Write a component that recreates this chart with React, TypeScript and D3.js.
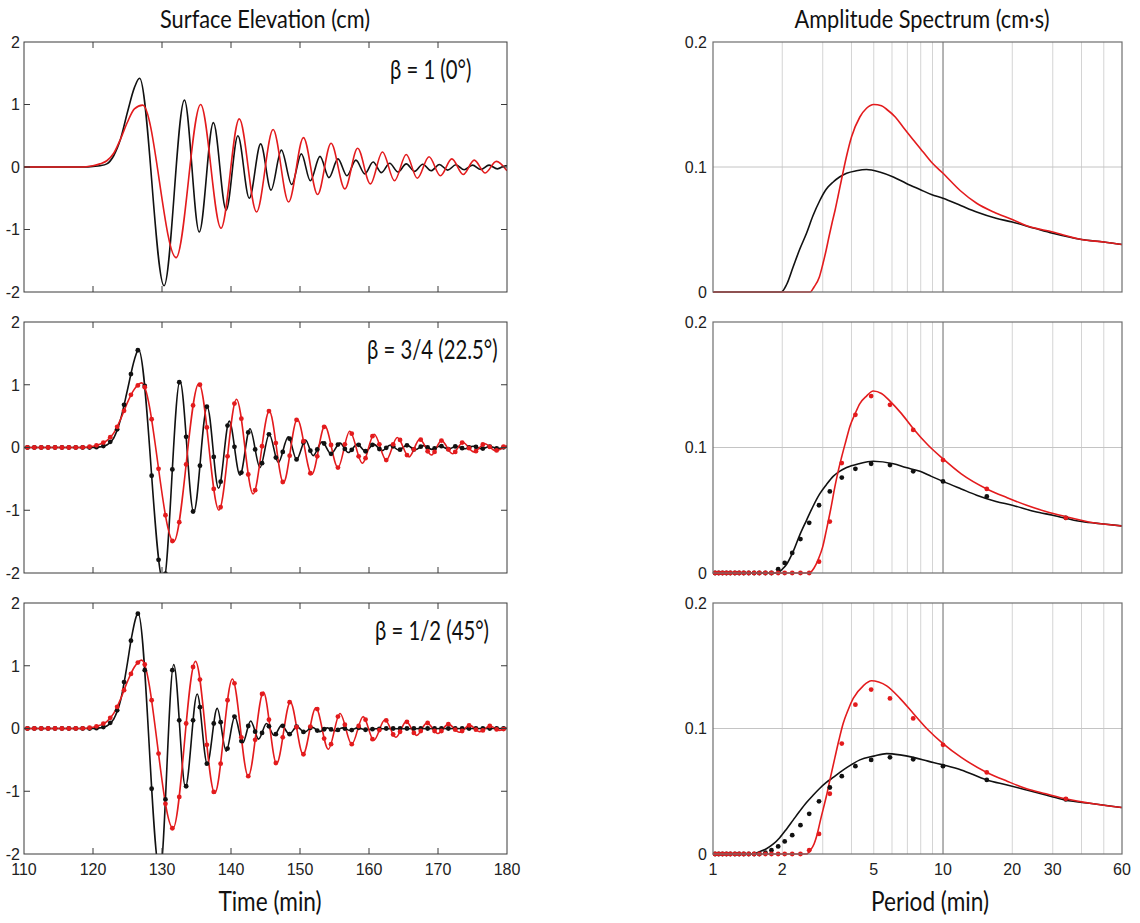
import React from "react";
import * as d3 from "d3";

type P = [number, number];

// ---------- axes / labels ----------
const timeTicks = [110, 120, 130, 140, 150, 160, 170, 180];
const elevTicks = [-2, -1, 0, 1, 2];
const periodGrid = [2, 3, 4, 5, 6, 7, 8, 9, 10, 20, 30, 40, 50];
const periodLabels = [1, 2, 5, 10, 20, 30, 60];
const specTicks = [0, 0.1, 0.2];
const betaLabels = ["β = 1 (0°)", "β = 3/4 (22.5°)", "β = 1/2 (45°)"];

// ---------- surface elevation: lines (time min, cm) ----------
const elevTopBlack: P[] = [[110,0],[119,0],[120,0.01],[121,0.02],[122,0.05],[123,0.18],[124,0.45],[125,0.88],[126,1.27],[126.75,1.42],[130.3,-1.9],[133.25,1.07],[135.4,-1.04],[137.45,0.71],[139.3,-0.69],[141.0,0.5],[142.65,-0.5],[144.3,0.37],[145.8,-0.37],[147.3,0.27],[148.8,-0.28],[150.2,0.21],[151.5,-0.22],[152.9,0.17],[154.2,-0.17],[155.5,0.13],[156.8,-0.14],[158.1,0.11],[159.4,-0.11],[160.6,0.08],[161.8,-0.09],[163.0,0.06],[164.2,-0.08],[165.4,0.05],[166.6,-0.07],[167.8,0.045],[169.0,-0.06],[170.2,0.04],[171.4,-0.05],[172.6,0.035],[173.8,-0.045],[175.0,0.03],[176.2,-0.04],[177.4,0.03],[178.6,-0.03],[179.8,0.02],[180,0.02]];
const elevTopRed: P[] = [[110,0],[118,0],[119,0.005],[120,0.02],[121,0.05],[122,0.1],[123,0.22],[124,0.45],[125,0.72],[126,0.93],[127.2,0.99],[132.05,-1.45],[135.6,1.0],[138.55,-0.98],[141.2,0.77],[143.7,-0.72],[146.1,0.6],[148.35,-0.56],[150.5,0.47],[152.55,-0.44],[154.5,0.38],[156.5,-0.35],[158.35,0.3],[160.2,-0.27],[161.95,0.24],[163.7,-0.22],[165.4,0.2],[167.0,-0.18],[168.7,0.165],[170.35,-0.14],[172.0,0.13],[173.65,-0.12],[175.25,0.11],[176.85,-0.095],[178.45,0.09],[180,-0.06]];
const elevMidBlack: P[] = [[110,0],[120,0],[121,0.01],[122,0.04],[123,0.15],[124,0.45],[125,0.92],[126,1.4],[126.6,1.56],[130.2,-2.15],[132.6,1.06],[134.6,-1.03],[136.55,0.65],[138.2,-0.65],[139.75,0.42],[141.3,-0.44],[142.75,0.3],[144.2,-0.32],[145.55,0.21],[146.85,-0.24],[148.3,0.17],[149.5,-0.19],[150.8,0.12],[151.9,-0.13],[153.2,0.09],[154.5,-0.1],[155.8,0.07],[157.0,-0.08],[158.3,0.05],[159.5,-0.06],[160.7,0.05],[161.9,-0.05],[163.1,0.04],[164.3,-0.04],[165.5,0.035],[166.7,-0.035],[167.9,0.03],[169.1,-0.03],[170.3,0.025],[171.5,-0.025],[172.7,0.02],[173.9,-0.02],[175.1,0.02],[176.3,-0.02],[177.5,0.015],[178.7,-0.015],[180,0.01]];
const elevMidRed: P[] = [[110,0],[118,0],[119,0.005],[120,0.02],[121,0.05],[122,0.11],[123,0.23],[124,0.45],[125,0.72],[126,0.93],[127.05,1.03],[131.7,-1.5],[135.35,1.02],[138.25,-1.0],[140.8,0.77],[143.2,-0.74],[145.55,0.58],[147.6,-0.56],[149.6,0.45],[151.7,-0.43],[153.6,0.34],[155.5,-0.32],[157.2,0.26],[159.05,-0.25],[160.75,0.21],[162.5,-0.2],[164.1,0.16],[165.8,-0.15],[167.35,0.13],[169.05,-0.12],[170.5,0.11],[172.1,-0.1],[173.6,0.08],[175.2,-0.07],[176.8,0.06],[178.3,-0.05],[180,0.03]];
const elevBotBlack: P[] = [[110,0],[120,0],[121,0.01],[122,0.04],[123,0.15],[124,0.45],[125,1.05],[125.6,1.46],[126.55,1.83],[129.7,-2.3],[131.7,1.02],[133.4,-0.93],[135.1,0.55],[136.55,-0.56],[138.0,0.32],[139.3,-0.36],[140.55,0.19],[141.7,-0.23],[142.85,0.12],[144.0,-0.17],[145.15,0.08],[146.25,-0.11],[147.35,0.05],[148.45,-0.09],[149.55,0.03],[150.65,-0.06],[151.75,0.02],[152.85,-0.05],[153.95,0.01],[155.05,-0.04],[156.15,0.01],[157.25,-0.03],[158.35,0.01],[159.5,-0.02],[161,-0.005],[180,0]];
const elevBotRed: P[] = [[110,0],[118,0],[119,0.005],[120,0.02],[121,0.05],[122,0.11],[123,0.24],[124,0.47],[125,0.75],[126,0.98],[127.05,1.09],[131.6,-1.59],[134.85,1.07],[137.65,-1.03],[140.2,0.79],[142.5,-0.76],[144.7,0.58],[146.6,-0.56],[148.6,0.42],[150.45,-0.41],[152.3,0.33],[154.1,-0.33],[155.8,0.24],[157.5,-0.25],[159.15,0.19],[160.7,-0.19],[162.3,0.14],[163.9,-0.14],[165.4,0.11],[166.9,-0.11],[168.4,0.09],[170.0,-0.08],[171.5,0.07],[173.1,-0.06],[174.6,0.05],[176.05,-0.05],[177.5,0.04],[178.95,-0.03],[180,0.01]];

// ---------- surface elevation: simulation dots ----------
const dotTimes = [110.5,111.5,112.5,113.5,114.5,115.5,116.5,117.5,118.5,119.5,120.5,121.5,122.5,123.5,124.5,125.5,126.5,127.5,128.5,129.5,130.5,131.5,132.5,133.5,134.5,135.5,136.5,137.5,138.5,139.5,140.5,141.5,142.5,143.5,144.5,145.5,146.5,147.5,148.5,149.5,150.5,151.5,152.5,153.5,154.5,155.5,156.5,157.5,158.5,159.5,160.5,161.5,162.5,163.5,164.5,165.5,166.5,167.5,168.5,169.5,170.5,171.5,172.5,173.5,174.5,175.5,176.5,177.5,178.5,179.5];
const dotsMidBlack = [0,0,0,0,0,0,0,0,0,0,0.005,0.022,0.09,0.29,0.68,1.17,1.55,0.98,-0.45,-1.79,-2.01,-0.35,1.04,0.17,-1.02,-0.29,0.65,-0.15,-0.545,0.35,0.01,-0.4,0.24,-0.03,-0.25,0.21,-0.16,-0.07,0.14,-0.19,0.08,-0.05,-0.03,0.064,-0.1,0.047,-0.023,-0.037,0.042,-0.06,0.042,-0.024,-0.005,0.019,-0.034,0.035,-0.03,0.013,0,-0.016,0.021,-0.025,0.017,-0.01,0,0.01,-0.017,0.015,-0.013,0.002];
const dotsMidRed = [0,0,0,0,0,0,0,0,0.002,0.012,0.034,0.078,0.165,0.33,0.585,0.84,0.99,0.96,0.45,-0.34,-1.08,-1.49,-1.19,-0.27,0.67,1.0,0.32,-0.66,-0.95,-0.14,0.7,0.46,-0.43,-0.68,0.02,0.58,0.07,-0.55,-0.13,0.44,0.1,-0.41,-0.14,0.33,0.04,-0.32,0.05,0.22,-0.14,-0.17,0.18,0.05,-0.2,0.05,0.12,-0.12,-0.03,0.125,-0.06,-0.07,0.11,-0.03,-0.07,0.078,-0.01,-0.058,0.048,0.01,-0.047,0.013];
const dotsBotBlack = [0,0,0,0,0,0,0,0,0,0,0.005,0.022,0.09,0.29,0.74,1.4,1.83,0.93,-0.96,-2.25,-1.13,0.93,0.13,-0.92,0.13,0.34,-0.56,0.08,0.1,-0.32,0.19,-0.2,0.04,-0.05,-0.07,0.035,-0.09,0.043,-0.09,0.03,-0.055,0.01,-0.033,-0.012,-0.015,-0.022,0,-0.025,0.01,-0.02,-0.01,-0.005,0,0,0,0,0,0,0,0,0,0,0,0,0,0,0,0,0,0];
const dotsBotRed = [0,0,0,0,0,0,0,0,0.002,0.012,0.034,0.078,0.17,0.345,0.61,0.87,1.05,1.02,0.45,-0.4,-1.2,-1.59,-1.09,0.08,0.98,0.78,-0.26,-1.01,-0.56,0.45,0.72,-0.14,-0.76,-0.18,0.55,0.14,-0.55,-0.14,0.42,0.02,-0.41,0.03,0.31,-0.16,-0.25,0.19,0.06,-0.25,0.04,0.14,-0.17,-0.025,0.128,-0.096,-0.052,0.107,-0.071,-0.04,0.088,-0.04,-0.04,0.07,-0.019,-0.04,0.049,-0.018,-0.03,0.04,-0.014,-0.009];

// ---------- amplitude spectrum: lines (period min, cm·s) ----------
const specTopBlack: P[] = [[1,0],[1.98,0],[2.09,0.006],[2.23,0.02],[2.38,0.034],[2.55,0.047],[2.72,0.061],[2.91,0.073],[3.1,0.082],[3.33,0.088],[3.55,0.092],[3.81,0.095],[4.2,0.097],[4.65,0.098],[5.3,0.096],[6.08,0.092],[6.9,0.087],[7.94,0.082],[8.9,0.078],[10,0.075],[12,0.069],[14,0.064],[17,0.059],[20,0.056],[25,0.051],[30,0.047],[40,0.042],[50,0.04],[60,0.038]];
const specTopRed: P[] = [[1,0],[2.65,0],[2.75,0.004],[2.9,0.012],[3.0,0.022],[3.1,0.033],[3.2,0.045],[3.3,0.056],[3.4,0.066],[3.5,0.077],[3.62,0.09],[3.8,0.108],[4.0,0.124],[4.35,0.14],[4.65,0.147],[5.0,0.15],[5.4,0.149],[5.7,0.146],[6.2,0.14],[6.7,0.132],[7.4,0.122],[8.2,0.112],[9.0,0.103],[10,0.095],[11.9,0.081],[14,0.071],[16.6,0.064],[20,0.058],[23.1,0.053],[30,0.048],[40,0.042],[50,0.04],[60,0.038]];
const specMidBlack: P[] = [[1,0],[1.9,0],[2.0,0.003],[2.09,0.007],[2.23,0.017],[2.38,0.03],[2.55,0.042],[2.72,0.053],[2.91,0.063],[3.1,0.07],[3.33,0.077],[3.55,0.081],[3.81,0.084],[4.3,0.087],[4.97,0.089],[6.08,0.087],[6.9,0.084],[7.94,0.081],[8.9,0.077],[10,0.073],[12,0.067],[14,0.062],[17,0.057],[20,0.054],[25,0.049],[30,0.046],[40,0.041],[50,0.039],[60,0.0375]];
const specMidRed: P[] = [[1,0],[2.62,0],[2.75,0.004],[2.87,0.011],[3.0,0.021],[3.11,0.034],[3.25,0.051],[3.39,0.069],[3.5,0.081],[3.62,0.092],[3.78,0.105],[3.94,0.117],[4.15,0.127],[4.35,0.135],[4.65,0.141],[4.97,0.145],[5.4,0.143],[5.88,0.137],[6.6,0.127],[7.43,0.115],[8.6,0.102],[10,0.091],[12,0.079],[15.5,0.067],[19,0.06],[23.1,0.054],[28,0.049],[34,0.045],[45,0.04],[60,0.0375]];
const specBotBlack: P[] = [[1,0],[1.5,0],[1.6,0.002],[1.7,0.004],[1.83,0.008],[1.95,0.013],[2.09,0.02],[2.23,0.027],[2.38,0.034],[2.55,0.041],[2.73,0.047],[2.9,0.052],[3.11,0.057],[3.33,0.061],[3.56,0.065],[3.9,0.07],[4.35,0.075],[5.0,0.078],[5.69,0.08],[6.5,0.079],[7.43,0.077],[8.6,0.074],[10,0.071],[12,0.067],[15.5,0.059],[19,0.055],[23.1,0.051],[28,0.047],[34,0.043],[45,0.04],[60,0.037]];
const specBotRed: P[] = [[1,0],[2.55,0],[2.65,0.003],[2.75,0.008],[2.82,0.014],[2.95,0.029],[3.11,0.046],[3.25,0.062],[3.39,0.077],[3.53,0.091],[3.68,0.104],[3.87,0.115],[4.07,0.124],[4.5,0.134],[4.89,0.138],[5.25,0.137],[5.69,0.134],[6.5,0.124],[7.43,0.112],[8.6,0.099],[10,0.088],[12,0.077],[15.5,0.065],[19,0.058],[23.1,0.052],[28,0.048],[34,0.044],[45,0.04],[60,0.037]];

// ---------- amplitude spectrum: simulation dots ----------
const specDotPeriods = [1.021,1.059,1.1,1.144,1.19,1.245,1.3,1.36,1.43,1.51,1.59,1.69,1.795,1.92,2.05,2.21,2.4,2.62,2.89,3.22,3.63,4.16,4.87,5.88,7.42,10,15.5,34.2];
const specDotsMidBlack = [0,0,0,0,0,0,0,0,0,0,0,0,0,0.003,0.008,0.016,0.027,0.04,0.054,0.065,0.076,0.083,0.087,0.086,0.081,0.073,0.061,0.044];
const specDotsMidRed = [0,0,0,0,0,0,0,0,0,0,0,0,0,0,0,0,0,0,0.009,0.041,0.0876,0.126,0.141,0.134,0.114,0.09,0.067,0.044];
const specDotsBotBlack = [0,0,0,0,0,0,0,0,0,0,0,0.001,0.003,0.006,0.01,0.015,0.023,0.032,0.042,0.053,0.062,0.07,0.075,0.077,0.0755,0.07,0.059,0.0435];
const specDotsBotRed = [0,0,0,0,0,0,0,0,0,0,0,0,0,0,0,0,0,0.003,0.016,0.048,0.088,0.119,0.131,0.124,0.108,0.087,0.065,0.044];

// ---------- layout ----------
const W = 1140, H = 923;
const LX0 = 24, LX1 = 507, RX0 = 713, RX1 = 1122;
const ROWS = [{ top: 42, bottom: 292 }, { top: 322, bottom: 573 }, { top: 603, bottom: 854 }];
const BETA_POS = [{ x: 390, y: 79 }, { x: 367, y: 359 }, { x: 375, y: 640 }];
const BLACK = "#111111";
const RED = "#e31b1d";
const TICK_FONT = "'Liberation Sans', Arial, Helvetica, sans-serif";
const LABEL_FONT = "Lato, 'Open Sans', sans-serif";
const DOT_R = 2.4;

const zip = (xs: number[], ys: number[]): P[] => xs.map((x, i) => [x, ys[i]]);

const elevRows = [
  { black: elevTopBlack, red: elevTopRed, bDots: null as P[] | null, rDots: null as P[] | null },
  { black: elevMidBlack, red: elevMidRed, bDots: zip(dotTimes, dotsMidBlack), rDots: zip(dotTimes, dotsMidRed) },
  { black: elevBotBlack, red: elevBotRed, bDots: zip(dotTimes, dotsBotBlack), rDots: zip(dotTimes, dotsBotRed) },
];
const specRows = [
  { black: specTopBlack, red: specTopRed, bDots: null as P[] | null, rDots: null as P[] | null },
  { black: specMidBlack, red: specMidRed, bDots: zip(specDotPeriods, specDotsMidBlack), rDots: zip(specDotPeriods, specDotsMidRed) },
  { black: specBotBlack, red: specBotRed, bDots: zip(specDotPeriods, specDotsBotBlack), rDots: zip(specDotPeriods, specDotsBotRed) },
];

function CondText({ x, y, size, sx, anchor, children }: { x: number; y: number; size: number; sx: number; anchor: string; children: React.ReactNode }) {
  return (
    <text transform={`translate(${x},${y}) scale(${sx},1)`} textAnchor={anchor} fontFamily={LABEL_FONT} fontSize={size} fill="#111">{children}</text>
  );
}

function ElevPanel({ i }: { i: number }) {
  const { top, bottom } = ROWS[i];
  const x = d3.scaleLinear().domain([110, 180]).range([LX0, LX1]);
  const y = d3.scaleLinear().domain([-2, 2]).range([bottom, top]);
  const line = d3.line<P>().x(d => x(d[0])).y(d => y(d[1])).curve(d3.curveMonotoneX);
  const r = elevRows[i];
  const clip = `clipL${i}`;
  const isLast = i === 2;
  return (
    <g>
      <defs>
        <clipPath id={clip}><rect x={LX0} y={top} width={LX1 - LX0} height={bottom - top} /></clipPath>
      </defs>
      <g clipPath={`url(#${clip})`}>
        <path d={line(r.black) || ""} fill="none" stroke={BLACK} strokeWidth={1.6} />
        <path d={line(r.red) || ""} fill="none" stroke={RED} strokeWidth={1.6} />
        {r.bDots && r.bDots.map((d, k) => <circle key={"b" + k} cx={x(d[0])} cy={y(d[1])} r={DOT_R} fill={BLACK} />)}
        {r.rDots && r.rDots.map((d, k) => <circle key={"r" + k} cx={x(d[0])} cy={y(d[1])} r={DOT_R} fill={RED} />)}
      </g>
      <rect x={LX0} y={top} width={LX1 - LX0} height={bottom - top} fill="none" stroke="#3a3a3a" strokeWidth={1} />
      {timeTicks.slice(1, -1).map(t => (
        <g key={t}>
          <line x1={x(t)} x2={x(t)} y1={bottom} y2={bottom - 6} stroke="#3a3a3a" />
          <line x1={x(t)} x2={x(t)} y1={top} y2={top + 6} stroke="#3a3a3a" />
        </g>
      ))}
      {elevTicks.slice(1, -1).map(v => (
        <g key={v}>
          <line x1={LX0} x2={LX0 + 6} y1={y(v)} y2={y(v)} stroke="#3a3a3a" />
          <line x1={LX1} x2={LX1 - 6} y1={y(v)} y2={y(v)} stroke="#3a3a3a" />
        </g>
      ))}
      {elevTicks.map(v => (
        <text key={"yl" + v} x={20} y={y(v)} dy="0.36em" textAnchor="end" fontFamily={TICK_FONT} fontSize={16} fill="#222">{v}</text>
      ))}
      {isLast && timeTicks.map(t => (
        <text key={"xl" + t} x={x(t)} y={bottom + 21} textAnchor="middle" fontFamily={TICK_FONT} fontSize={16} fill="#222">{t}</text>
      ))}
      <CondText x={BETA_POS[i].x} y={BETA_POS[i].y} size={26} sx={0.78} anchor="start">{betaLabels[i]}</CondText>
    </g>
  );
}

function SpecPanel({ i }: { i: number }) {
  const { top, bottom } = ROWS[i];
  const x = d3.scaleLog().domain([1, 60]).range([RX0, RX1]);
  const y = d3.scaleLinear().domain([0, 0.2]).range([bottom, top]);
  const line = d3.line<P>().x(d => x(d[0])).y(d => y(d[1])).curve(d3.curveMonotoneX);
  const r = specRows[i];
  const isLast = i === 2;
  return (
    <g>
      {periodGrid.map(p => (
        <line key={p} x1={x(p)} x2={x(p)} y1={top} y2={bottom} stroke={p === 10 ? "#8c8c8c" : "#d4d4d4"} strokeWidth={p === 10 ? 1.3 : 1} />
      ))}
      <line x1={RX0} x2={RX1} y1={y(0.1)} y2={y(0.1)} stroke="#c4c4c4" strokeWidth={1} />
      <path d={line(r.black) || ""} fill="none" stroke={BLACK} strokeWidth={1.6} />
      <path d={line(r.red) || ""} fill="none" stroke={RED} strokeWidth={1.6} />
      {r.bDots && r.bDots.map((d, k) => <circle key={"b" + k} cx={x(d[0])} cy={y(d[1])} r={DOT_R} fill={BLACK} />)}
      {r.rDots && r.rDots.map((d, k) => <circle key={"r" + k} cx={x(d[0])} cy={y(d[1])} r={DOT_R} fill={RED} />)}
      <rect x={RX0} y={top} width={RX1 - RX0} height={bottom - top} fill="none" stroke="#6e6e6e" strokeWidth={1.2} />
      {specTicks.map(v => (
        <text key={"yl" + v} x={707} y={y(v)} dy="0.36em" textAnchor="end" fontFamily={TICK_FONT} fontSize={16} fill="#222">{v === 0 ? "0" : v.toFixed(1)}</text>
      ))}
      {isLast && periodLabels.map(p => (
        <text key={"xl" + p} x={x(p)} y={bottom + 21} textAnchor="middle" fontFamily={TICK_FONT} fontSize={16} fill="#222">{p}</text>
      ))}
    </g>
  );
}

export default function App() {
  return (
    <svg width={W} height={H} viewBox={`0 0 ${W} ${H}`} style={{ position: "absolute", left: 0, top: 0, background: "#fff" }}>
      <rect x={0} y={0} width={W} height={H} fill="#fff" />
      <CondText x={265} y={28} size={25} sx={0.87} anchor="middle">Surface Elevation (cm)</CondText>
      <CondText x={922} y={28} size={25} sx={0.87} anchor="middle">Amplitude Spectrum (cm·s)</CondText>
      {[0, 1, 2].map(i => <ElevPanel key={"e" + i} i={i} />)}
      {[0, 1, 2].map(i => <SpecPanel key={"s" + i} i={i} />)}
      <CondText x={270} y={911} size={26} sx={0.87} anchor="middle">Time (min)</CondText>
      <CondText x={930} y={911} size={26} sx={0.87} anchor="middle">Period (min)</CondText>
    </svg>
  );
}
